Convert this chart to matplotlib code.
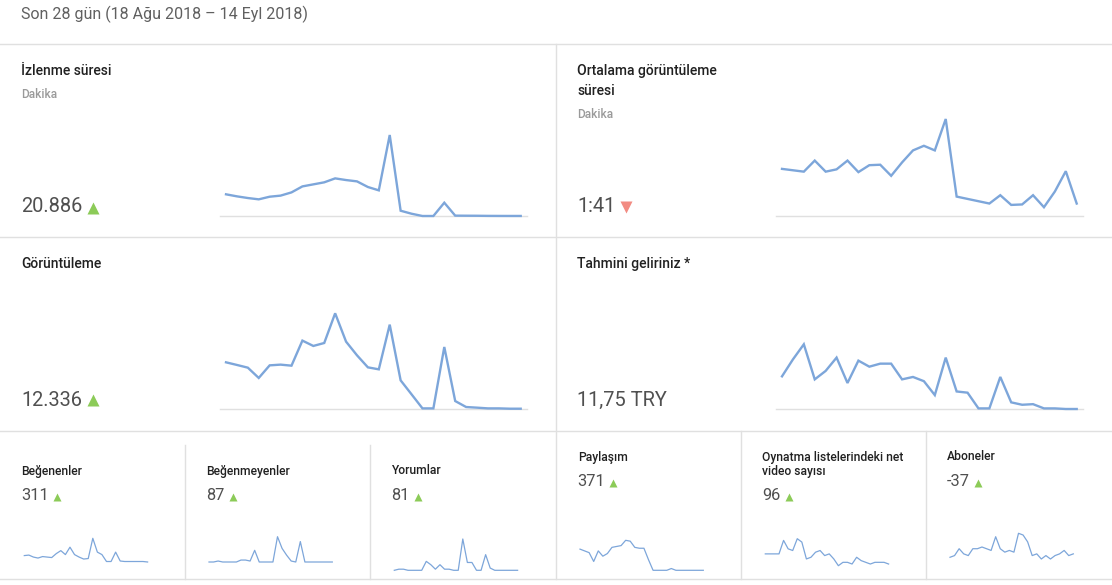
import matplotlib
matplotlib.use("Agg")
import matplotlib.pyplot as plt

plt.rcParams["font.family"] = ["Roboto", "DejaVu Sans"]

W, H = 1112, 585
DPI = 100

LINE = "#7da6da"
GRID = "#e0e0e0"
TITLE_C = "#212121"
VALUE_C = "#505050"
SUB_C = "#9a9a9a"
UP_C = "#8ccb58"
DOWN_C = "#f28b82"

days = list(range(28))

# daily series, 18 Aug - 14 Sep 2018
watch_minutes = [905, 820, 750, 695, 805, 850, 985, 1235, 1320, 1405, 1570, 1500, 1445, 1210,
                 1070, 3380, 220, 95, 0, 0, 555, 15, 12, 10, 5, 3, 2, 2]
avg_view_sec = [102, 99, 96, 120, 96, 101, 120, 95, 110, 111, 87, 116, 142, 152,
                142, 210, 42, 37, 32, 27, 45, 24, 25, 45, 19, 53, 97, 27]
views = [581, 548, 514, 385, 543, 552, 539, 853, 786, 823, 1195, 840, 669, 518,
         493, 1053, 355, 180, 4, 4, 773, 96, 21, 13, 4, 4, 0, 0]
revenue = [0.54, 0.82, 1.07, 0.49, 0.63, 0.85, 0.43, 0.80, 0.70, 0.75, 0.75, 0.49, 0.53, 0.46,
           0.23, 0.85, 0.29, 0.27, 0.01, 0.01, 0.53, 0.11, 0.07, 0.08, 0.01, 0.01, 0.0, 0.0]
likes = [13, 14, 10, 8, 11, 10, 9, 17, 23, 15, 30, 15, 10, 6,
         7, 48, 20, 15, 1, 1, 20, 2, 1, 1, 1, 1, 1, 0]
dislikes = [0, 0, 1, 0, 0, 0, 0, 2, 2, 1, 12, 0, 0, 0,
            0, 26, 14, 7, 1, 0, 21, 0, 0, 0, 0, 0, 0, 0]
comments = [0, 1, 1, 0, 0, 0, 0, 8, 5, 1, 5, 1, 1, 0,
            0, 28, 7, 7, 0, 0, 14, 2, 0, 0, 0, 0, 0, 0]
shares = [24, 22, 20, 10, 22, 16, 19, 26, 27, 28, 34, 33, 26, 25,
          25, 12, 0, 0, 0, 0, 2, 0, 0, 0, 0, 0, 0, 0]
playlist_net = [5, 5, 5, 5, 13, 8, 7, 14, 12, 2, 3, 6, 7, 4,
                5, 2, -2, 0, 0, -1, 3, 1, 0, -1, 0, 0, 0, -1]
subscribers = [-5, -4, 0, -3, -4, 0, 0, 1, 0, -1, 7, 0, -2, -1,
               -2, 9, 8, 4, -4, -3, -6, -4, -6, -4, -3, -1, -4, -3]


def px_axes(fig, left, top, right, bottom):
    return fig.add_axes([left / W, 1 - bottom / H, (right - left) / W, (bottom - top) / H])


def big_spark(fig, vals, left, top, bottom):
    ax = px_axes(fig, left, top, left + 306.7, bottom)
    ax.plot(days, vals, color=LINE, lw=1.7, clip_on=False, solid_joinstyle="miter")
    ax.axhline(0, color=GRID, lw=1.0, zorder=0, clip_on=False)
    ax.set_xlim(-0.55, 27.55)
    ax.set_ylim(0, max(vals))
    ax.axis("off")


def mini_spark(fig, vals, left, top, bottom):
    ax = px_axes(fig, left, top, left + 123.3, bottom)
    ax.plot(days, vals, color=LINE, lw=0.9, clip_on=False)
    ax.set_xlim(0, 27)
    ax.set_ylim(min(vals), max(vals))
    ax.axis("off")


fig = plt.figure(figsize=(W / DPI, H / DPI), dpi=DPI)
fig.patch.set_facecolor("white")
bg = fig.add_axes([0, 0, 1, 1])
bg.set_xlim(0, W)
bg.set_ylim(H, 0)
bg.axis("off")

# card borders
for y in (43.5, 236.5, 430.5, 578.5):
    bg.plot([0, W], [y, y], color=GRID, lw=1)
bg.plot([555.5, 555.5], [43.5, 578.5], color=GRID, lw=1)
for x in (184.5, 369.5):
    bg.plot([x, x], [445, 578.5], color=GRID, lw=1)
for x in (740.5, 925.5):
    bg.plot([x, x], [430.5, 578.5], color=GRID, lw=1)

bg.text(21, 14, "Son 28 gün (18 Ağu 2018 – 14 Eyl 2018)", fontsize=11.5, color="#606060",
        va="center", ha="left")


def label(x, y, s, size, color, weight="normal"):
    bg.text(x, y, s, fontsize=size, color=color, va="center", ha="left", fontweight=weight)


def tri(x, y, up=True, ms=8):
    # markers are drawn in screen space, so "^" points up even on the flipped bg axes
    bg.plot([x], [y], marker="^" if up else "v", ms=ms, color=UP_C if up else DOWN_C, mec="none")


# big cards
label(21, 71, "İzlenme süresi", 10, TITLE_C, "medium")
label(21, 95, "Dakika", 8.6, SUB_C, "medium")
label(21, 207, "20.886", 14.4, VALUE_C)
tri(93, 208)

label(577, 71, "Ortalama görüntüleme", 10, TITLE_C, "medium")
label(577, 91, "süresi", 10, TITLE_C, "medium")
label(577, 114, "Dakika", 8.6, SUB_C, "medium")
label(577, 207, "1:41", 14.4, VALUE_C)
tri(626, 207, up=False)

label(21, 264, "Görüntüleme", 10, TITLE_C, "medium")
label(21, 400, "12.336", 14.4, VALUE_C)
tri(93, 400)

label(577, 264, "Tahmini geliriniz *", 10, TITLE_C, "medium")
label(577, 400, "11,75 TRY", 14.4, VALUE_C)

big_spark(fig, watch_minutes, 220, 135, 216)
big_spark(fig, avg_view_sec, 776, 119, 216)
big_spark(fig, views, 220, 313.3, 408.7)
big_spark(fig, revenue, 776, 344.3, 409)

# small cards
label(21, 471, "Beğenenler", 8.7, TITLE_C, "medium")
label(21, 495, "311", 11.8, VALUE_C)
tri(57, 497, ms=6)
label(206, 471, "Beğenmeyenler", 8.7, TITLE_C, "medium")
label(206, 495, "87", 11.8, VALUE_C)
tri(233, 497, ms=6)
label(391, 471, "Yorumlar", 8.7, TITLE_C, "medium")
label(391, 495, "81", 11.8, VALUE_C)
tri(418, 497, ms=6)
label(578, 457, "Paylaşım", 8.7, TITLE_C, "medium")
label(577, 482, "371", 11.8, VALUE_C)
tri(613, 483, ms=6)
label(762, 457, "Oynatma listelerindeki net", 8.7, TITLE_C, "medium")
label(762, 472, "video sayısı", 8.7, TITLE_C, "medium")
label(762, 495, "96", 11.8, VALUE_C)
tri(789, 497, ms=6)
label(947, 457, "Aboneler", 8.7, TITLE_C, "medium")
label(947, 482, "-37", 11.8, VALUE_C)
tri(978, 483, ms=6)

mini_spark(fig, likes, 24.3, 538.3, 562)
mini_spark(fig, dislikes, 209, 536.7, 562)
mini_spark(fig, comments, 394.3, 539, 570.3)
mini_spark(fig, shares, 580, 540.3, 570.3)
mini_spark(fig, playlist_net, 765.3, 538.7, 565.7)
mini_spark(fig, subscribers, 950, 533.3, 559)

fig.savefig("out.png", dpi=DPI, facecolor="white")
